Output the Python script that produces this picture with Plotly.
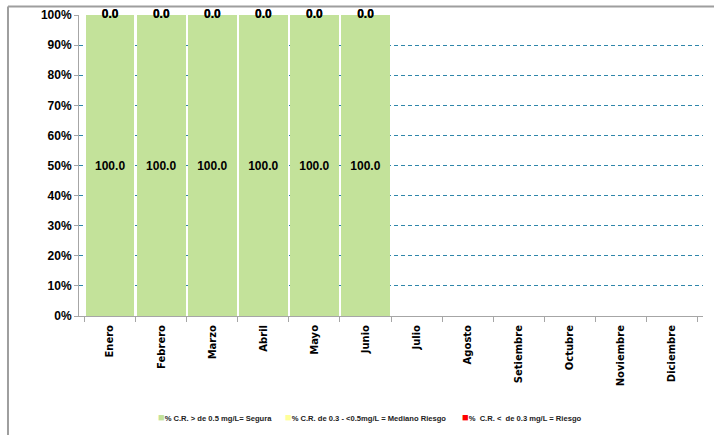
import plotly.graph_objects as go

months = ["Enero", "Febrero", "Marzo", "Abril", "Mayo", "Junio",
          "Julio", "Agosto", "Setiembre", "Octubre", "Noviembre", "Diciembre"]
segura = [100.0, 100.0, 100.0, 100.0, 100.0, 100.0, None, None, None, None, None, None]
mediano = [0.0, 0.0, 0.0, 0.0, 0.0, 0.0, None, None, None, None, None, None]
riesgo = [0.0, 0.0, 0.0, 0.0, 0.0, 0.0, None, None, None, None, None, None]
series_names = ["% C.R. > de 0.5 mg/L= Segura",
                "% C.R. de 0.3 - <0.5mg/L = Mediano Riesgo",
                "% &nbsp;C.R. < &nbsp;de 0.3 mg/L = Riesgo"]
colors = ["#C3E29A", "#FFFF99", "#FF0000"]
y_ticks = [0, 10, 20, 30, 40, 50, 60, 70, 80, 90, 100]

NARROW = "Liberation Sans Narrow, Arial Narrow, Liberation Sans"
fig = go.Figure()

fig.add_trace(go.Bar(x=months, y=segura, marker=dict(color=colors[0], line=dict(width=0)),
                     name=series_names[0], texttemplate="<b>%{y:.1f}</b>", textposition="inside",
                     insidetextanchor="middle",
                     textfont=dict(family=NARROW, size=12, color="black")))
fig.add_trace(go.Bar(x=months, y=mediano, marker=dict(color=colors[1], line=dict(width=0)),
                     name=series_names[1]))
fig.add_trace(go.Bar(x=months, y=riesgo, marker=dict(color=colors[2], line=dict(width=0)),
                     name=series_names[2]))

# labels for the zero-height segments, placed at the cumulative top
def cum(*lists):
    out = []
    for vals in zip(*lists):
        if any(v is None for v in vals):
            out.append(None)
        else:
            out.append(sum(vals))
    return out

for vals, base in [(mediano, cum(segura, mediano)), (riesgo, cum(segura, mediano, riesgo))]:
    fig.add_trace(go.Scatter(x=months, y=base, mode="text",
                             text=[None if v is None else f"<b>{v:.1f}</b>" for v in vals],
                             textposition="middle center",
                             textfont=dict(family=NARROW, size=12, color="black"),
                             showlegend=False, hoverinfo="skip", cliponaxis=False))

# legend built as annotations
legend_x = [0.123, 0.327, 0.611]
for name, col, lx in zip(series_names, colors, legend_x):
    fig.add_annotation(xref="paper", yref="paper", x=lx, y=-0.336, xanchor="left", yanchor="middle",
                       showarrow=False,
                       text=f"<span style='color:{col};font-size:11px'>■</span><b>{name}</b>",
                       font=dict(family=NARROW, size=7.6, color="#222"))

# chart frame (partially cropped on the right / bottom, as in the reference)
frame = dict(color="#9E9E9E", width=2)
fig.add_shape(type="line", xref="paper", yref="paper", x0=-0.1138, x1=1.03, y0=1.028, y1=1.028,
              line=frame, layer="above")
fig.add_shape(type="line", xref="paper", yref="paper", x0=-0.1138, x1=-0.1138, y0=-0.40, y1=1.028,
              line=frame, layer="above")

fig.update_layout(
    width=714, height=435,
    margin=dict(l=79, r=11, t=15, b=119, autoexpand=False),
    paper_bgcolor="white", plot_bgcolor="white",
    barmode="stack", bargap=0.05,
    showlegend=False,
    xaxis=dict(type="category", tickson="boundaries", ticks="outside", ticklen=5,
               tickcolor="#A6A6A6", showline=True, linecolor="#A6A6A6", linewidth=1,
               showgrid=False, tickangle=-90, automargin=False,
               tickfont=dict(family="DejaVu Sans", size=10, color="black"),
               ticklabelstandoff=4),
    yaxis=dict(range=[0, 100], tickvals=y_ticks, automargin=False,
               showline=True, linecolor="#A6A6A6", linewidth=1,
               ticks="outside", ticklen=4, tickcolor="#A6A6A6",
               showgrid=True, gridcolor="#2F86AA", gridwidth=1, griddash="4px,3px",
               zeroline=False,
               tickfont=dict(family=NARROW, size=12, color="black")),
)
fig.update_xaxes(ticktext=[f"<b>{m}</b>" for m in months], tickvals=months)
fig.update_yaxes(ticktext=[f"<b>{v}%</b>" for v in y_ticks])

fig.write_html("out.html", config={"displayModeBar": False, "staticPlot": True},
               post_script="document.body.style.margin='0';document.body.style.overflow='hidden';")
